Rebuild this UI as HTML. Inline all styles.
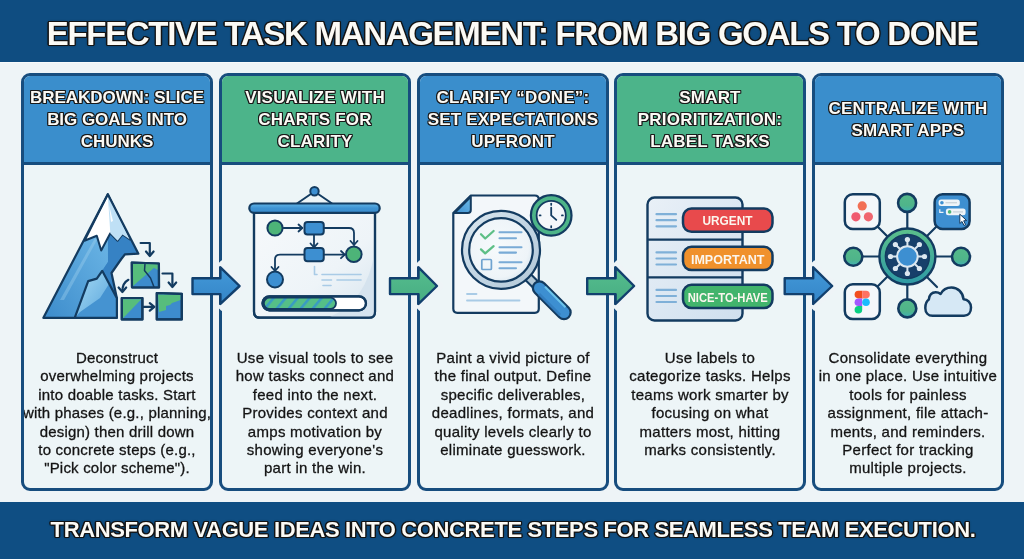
<!DOCTYPE html>
<html><head><meta charset="utf-8">
<style>
html,body{margin:0;padding:0;}
body{width:1024px;height:559px;overflow:hidden;position:relative;background:#eef4f7;font-family:"Liberation Sans",sans-serif;}
.band{position:absolute;left:0;width:1024px;background:#0e497b;}
.title{position:absolute;left:0;width:1024px;text-align:center;color:#fbfaf5;font-weight:bold;white-space:nowrap;
 text-shadow:1.4px 0 0 #141414,-1.4px 0 0 #141414,0 1.4px 0 #141414,0 -1.4px 0 #141414,1px 1px 0 #141414,-1px 1px 0 #141414,1px -1px 0 #141414,-1px -1px 0 #141414,0 0 2.5px #111;will-change:transform;}
.card{position:absolute;top:73px;width:186px;height:412px;border:3px solid #174d7e;border-radius:9px;background:#edf5f7;overflow:hidden;}
.ch{position:absolute;left:0;top:0;width:186px;height:86px;border-bottom:3px solid #174d7e;}
.blue{background:#3a8ecc;}
.green{background:#4cb48a;}
.ht{position:absolute;left:0;width:186px;text-align:center;color:#fbfaf5;font-weight:bold;font-size:17px;line-height:22px;letter-spacing:0.2px;white-space:nowrap;will-change:transform;
 text-shadow:1px 0 0 #1a1a1a,-1px 0 0 #1a1a1a,0 1px 0 #1a1a1a,0 -1px 0 #1a1a1a,1px 1px 0 #1a1a1a,-1px 1px 0 #1a1a1a,1px -1px 0 #1a1a1a,-1px -1px 0 #1a1a1a;}
.bt{position:absolute;left:-10px;width:206px;top:273.3px;text-align:center;color:#141414;font-size:15px;line-height:18.4px;letter-spacing:0.28px;white-space:nowrap;-webkit-text-stroke:0.3px #141414;will-change:transform;}
svg{position:absolute;left:0;top:0;}
</style></head>
<body>
<div class="band" style="top:0;height:62px;background:#0f4d81;"></div>
<div style="position:absolute;left:0;top:62px;width:1024px;height:1px;background:#f7fafc"></div>
<div class="band" style="top:502px;height:57px;background:#0f4e83;"></div>
<div class="title" style="top:13.5px;font-size:33px;line-height:40px;letter-spacing:-1.3px;">EFFECTIVE TASK MANAGEMENT: FROM BIG GOALS TO DONE</div>
<div class="title" style="top:515.8px;left:1.3px;font-size:22px;line-height:28px;letter-spacing:-0.38px;">TRANSFORM VAGUE IDEAS INTO CONCRETE STEPS FOR SEAMLESS TEAM EXECUTION.</div>

<div class="card" style="left:21px;">
 <div class="ch blue"><div class="ht" style="top:11px;letter-spacing:-0.05px;">BREAKDOWN: SLICE<br>BIG GOALS INTO<br>CHUNKS</div></div>
 <div class="bt" style="letter-spacing:0.2px;">Deconstruct<br>overwhelming projects<br>into doable tasks. Start<br>with phases (e.g., planning,<br>design) then drill down<br>to concrete steps (e.g.,<br>"Pick color scheme").</div>
</div>
<div class="card" style="left:219px;">
 <div class="ch green"><div class="ht" style="top:11px;">VISUALIZE WITH<br>CHARTS FOR<br>CLARITY</div></div>
 <div class="bt">Use visual tools to see<br>how tasks connect and<br>feed into the next.<br>Provides context and<br>amps motivation by<br>showing everyone's<br>part in the win.</div>
</div>
<div class="card" style="left:416.5px;">
 <div class="ch blue"><div class="ht" style="top:11px;">CLARIFY “DONE”:<br>SET EXPECTATIONS<br>UPFRONT</div></div>
 <div class="bt">Paint a vivid picture of<br>the final output. Define<br>specific deliverables,<br>deadlines, formats, and<br>quality levels clearly to<br>eliminate guesswork.</div>
</div>
<div class="card" style="left:614px;">
 <div class="ch green"><div class="ht" style="top:11px;">SMART<br>PRIORITIZATION:<br>LABEL TASKS</div></div>
 <div class="bt">Use labels to<br>categorize tasks. Helps<br>teams work smarter by<br>focusing on what<br>matters most, hitting<br>marks consistently.</div>
</div>
<div class="card" style="left:812px;">
 <div class="ch blue"><div class="ht" style="top:22px;">CENTRALIZE WITH<br>SMART APPS</div></div>
 <div class="bt">Consolidate everything<br>in one place. Use intuitive<br>tools for painless<br>assignment, file attach-<br>ments, and reminders.<br>Perfect for tracking<br>multiple projects.</div>
</div>

<svg width="1024" height="559" viewBox="0 0 1024 559" id="icons">
<defs>
 <linearGradient id="mtL" x1="0.8" y1="0.1" x2="0.1" y2="1"><stop offset="0" stop-color="#6db7e6"/><stop offset="1" stop-color="#3f8ecd"/></linearGradient>
 <linearGradient id="mtR" x1="0" y1="0" x2="0" y2="1"><stop offset="0" stop-color="#3f8fcf"/><stop offset="1" stop-color="#2f78b9"/></linearGradient>
 <linearGradient id="frL" x1="0" y1="0" x2="1" y2="1"><stop offset="0" stop-color="#a9dcf5"/><stop offset="1" stop-color="#5aa6dc"/></linearGradient>
 <linearGradient id="arB" x1="0" y1="0" x2="0" y2="1"><stop offset="0" stop-color="#449ad9"/><stop offset="1" stop-color="#3384c7"/></linearGradient>
 <linearGradient id="arG" x1="0" y1="0" x2="0" y2="1"><stop offset="0" stop-color="#55bd8e"/><stop offset="1" stop-color="#47ad82"/></linearGradient>
 <linearGradient id="hubG" x1="0" y1="0" x2="0" y2="1"><stop offset="0" stop-color="#5cc08a"/><stop offset="1" stop-color="#2e9aa6"/></linearGradient>
 <linearGradient id="board" x1="0" y1="0" x2="1" y2="1"><stop offset="0" stop-color="#f6f9fb"/><stop offset="0.6" stop-color="#eef4f8"/><stop offset="1" stop-color="#d7e5ef"/></linearGradient>
 <linearGradient id="panel" x1="0" y1="0" x2="1" y2="1"><stop offset="0" stop-color="#e9f0f7"/><stop offset="1" stop-color="#cfdfee"/></linearGradient>
 <pattern id="stripes" width="12" height="20" patternUnits="userSpaceOnUse" patternTransform="translate(262 0) skewX(-40)"><rect width="12" height="20" fill="#55bf87"/><rect x="8" width="3.4" height="20" fill="#3a9cc2"/></pattern>
 <linearGradient id="bar" x1="0" y1="0" x2="0" y2="1"><stop offset="0" stop-color="#62b5e6"/><stop offset="0.5" stop-color="#3f93d3"/><stop offset="1" stop-color="#3a8bcc"/></linearGradient>
 <linearGradient id="nodeG" x1="0" y1="0" x2="0" y2="1"><stop offset="0" stop-color="#55b98a"/><stop offset="0.65" stop-color="#4fb48a"/><stop offset="1" stop-color="#3fb0b6"/></linearGradient>
 <linearGradient id="fold" x1="1" y1="0" x2="0" y2="1"><stop offset="0" stop-color="#6fbde9"/><stop offset="1" stop-color="#3d8fd1"/></linearGradient>
 <linearGradient id="ring" x1="0" y1="0" x2="1" y2="1"><stop offset="0" stop-color="#dbe7ef"/><stop offset="0.5" stop-color="#c2d5e3"/><stop offset="1" stop-color="#b4c9d9"/></linearGradient>
 <radialGradient id="glass" cx="0.45" cy="0.45" r="0.6"><stop offset="0" stop-color="#f6fafc"/><stop offset="0.8" stop-color="#eef4f8"/><stop offset="1" stop-color="#d9e6ef"/></radialGradient>
</defs>
<g stroke="#133b60" stroke-linejoin="round" stroke-linecap="round">
 <!-- ICON 1: mountain -->
 <path d="M107.8 194.2 L43.4 317.8 L116.9 317.8 L116.9 298.2 L111.5 273 L121.3 259 L125 254.3 L138.4 253.7 Z" fill="#3f8ccc" stroke="none"/>
 <path d="M107.8 194.2 L43.4 317.8 L74.7 317.8 L88.2 281.1 L96.8 278.6 L102.2 270.8 L108 262 L108 235 Z" fill="url(#mtL)" stroke="none"/>
 <path d="M107.8 194.2 L108 262 L102.2 270.8 L116.9 298.2 L111.5 273 L121.3 259 L125 254.3 L138.4 253.7 Z" fill="#3682c4" stroke="none"/>
 <path d="M60 300 L95 238 L97 240 L64 300 Z" fill="#a8d6f2" stroke="none" opacity="0.35"/>
 <path d="M107.8 194.2 L84.5 240.7 L96.8 235.8 L101.2 250.5 L110.3 233.3 L117.6 240.7 L122.5 234.5 L129.9 239.4 Z" fill="#ffffff" stroke-width="2"/>
 <path d="M107.8 194.2 L110.3 233.3 L117.6 240.7 L122.5 234.5 L129.9 239.4 Z" fill="#bfe0f5" stroke="none"/>
 <path d="M109 205 L111 222 L113 221 Z" fill="#ffffff" stroke="none" opacity="0.9"/>
 <path d="M107.8 194.2 L43.4 317.8 L116.9 317.8 L116.9 298.2 L111.5 273 L121.3 259 L125 254.3 L138.4 253.7 Z" fill="none" stroke-width="2.2"/>
 <path d="M74.7 317.8 L88.2 281.1 L96.8 278.6 L102.2 270.8 L116.9 298.2 L116.9 317.8 Z" fill="#4593d1" stroke="none"/>
 <path d="M74.7 317.8 L88.2 281.1 L96.8 278.6 L102.2 270.8 L109 284 L100 298 L80 312 Z" fill="url(#frL)" stroke="none"/>
 <path d="M74.7 317.8 L88.2 281.1 L96.8 278.6 L102.2 270.8 L116.9 298.2 L116.9 317.8 Z" fill="none" stroke-width="2.2"/>
 <!-- puzzle squares -->
 <path d="M131.8 262.5 L158.9 263.5 L159 287.5 L132 287.3 Z" fill="#3d8ccd" stroke-width="2.2"/>
 <path d="M133 263.7 L157.8 264.6 L133 286 Z" fill="#57bd7c" stroke="none"/>
 <path d="M147 264 L157.8 264.6 L157.8 270 Z" fill="#57bd7c" stroke="none"/>
 <path d="M145 263.5 L144.5 270.5 L150.5 278 L154 287" fill="none" stroke-width="1.5"/>
 <path d="M131.8 262.5 L158.9 263.5 L159 287.5 L132 287.3 Z" fill="none" stroke-width="2.2"/>
 <rect x="121.8" y="298" width="20.6" height="21.4" fill="#3d8ccd" stroke-width="2.2"/>
 <path d="M123 299.2 L141.3 299.2 L123 318.3 Z" fill="#57bd7c" stroke="none"/>
 <rect x="121.8" y="298" width="20.6" height="21.4" fill="none" stroke-width="2.2"/>
 <path d="M156.8 293 L181.8 293.8 L181.8 319.4 L156.8 319.4 Z" fill="#3d8ccd" stroke-width="2.2"/>
 <path d="M158 294.5 L180.5 295 L180.5 300 L175 302 L172 303 L170 305 L166 306 L166 310 L159 312 Z" fill="#57bd7c" stroke="none"/>
 <path d="M156.8 293 L181.8 293.8 L181.8 319.4 L156.8 319.4 Z" fill="none" stroke-width="2.2"/>
 <!-- arrows -->
 <path d="M140.6 243 L149.8 243 L149.8 255" fill="none" stroke-width="2.2"/>
 <path d="M146 251.5 L149.8 256 L153.6 251.5" fill="none" stroke-width="2.2"/>
 <path d="M162.5 273.5 L172.4 273.5 L172.4 286" fill="none" stroke-width="2.2"/>
 <path d="M168.6 282.5 L172.4 287 L176.2 282.5" fill="none" stroke-width="2.2"/>
 <path d="M128.4 279.8 Q122.5 283 122.4 291" fill="none" stroke-width="2.2"/>
 <path d="M118.6 287.5 L122.4 292 L126.2 287.5" fill="none" stroke-width="2.2"/>
 <path d="M143.2 306.9 L153.3 306.9" fill="none" stroke-width="2.2"/>
 <path d="M149.8 303.1 L154.3 306.9 L149.8 310.7" fill="none" stroke-width="2.2"/>
</g>
<g stroke="#133b60" stroke-linejoin="round" stroke-linecap="round">
 <!-- ICON 2: board -->
 <line x1="314.5" y1="191.5" x2="297" y2="203.5" stroke-width="2"/>
 <line x1="314.5" y1="191.5" x2="332" y2="203.5" stroke-width="2"/>
 <path d="M254 213 L254 311.7 Q254 317.7 260 317.7 L369 317.7 Q375 317.7 375 311.7 L375 213" fill="url(#board)" stroke-width="2.2"/>
 <path d="M375 250 Q368 300 330 317 L369 317.5 Q375 317.5 375 311.5 Z" fill="#d5e3ee" stroke="none"/>
 <path d="M254 213 L254 311.7 Q254 317.7 260 317.7 L369 317.7 Q375 317.7 375 311.7 L375 213" fill="none" stroke-width="2.2"/>
 <rect x="249.3" y="203.5" width="130.4" height="9.4" rx="4.7" fill="url(#bar)" stroke-width="2.2"/>
 <circle cx="314.5" cy="191.25" r="4.2" fill="#3d8fd1" stroke-width="2"/>
 <!-- flow -->
 <line x1="283.5" y1="228" x2="302" y2="228" stroke-width="1.8"/>
 <path d="M298.5 224.5 L302.3 228 L298.5 231.5" fill="none" stroke-width="1.8"/>
 <path d="M323.7 228 L349 228 Q354 228 354 233 L354 244.5" fill="none" stroke-width="1.8"/>
 <path d="M350.5 241 L354 245 L357.5 241" fill="none" stroke-width="1.8"/>
 <line x1="314" y1="234.5" x2="314" y2="247" stroke-width="1.8"/>
 <path d="M310.5 243.5 L314 247.3 L317.5 243.5" fill="none" stroke-width="1.8"/>
 <line x1="323.7" y1="254.6" x2="344.5" y2="254.6" stroke-width="1.8"/>
 <path d="M341 251 L344.8 254.6 L341 258.2" fill="none" stroke-width="1.8"/>
 <path d="M304.5 254.6 L280 254.6 Q275 254.6 275 259.6 L275 270.5" fill="none" stroke-width="1.8"/>
 <path d="M271.5 267 L275 271 L278.5 267" fill="none" stroke-width="1.8"/>
 <circle cx="275" cy="228" r="7.6" fill="#4db478" stroke-width="2"/>
 <rect x="304.5" y="222" width="19.25" height="12.5" rx="3" fill="#3d8fd1" stroke-width="2"/>
 <rect x="304.5" y="248" width="19.25" height="13.25" rx="3" fill="#3d8fd1" stroke-width="2"/>
 <circle cx="353.8" cy="254.3" r="7.8" fill="#4db478" stroke-width="2"/>
 <circle cx="275" cy="279.5" r="8" fill="#3d8fd1" stroke-width="2"/>
 <g stroke="#a9cbe6" stroke-width="1.6">
  <path d="M314.5 266.5 L314.5 274.5 L317 274.5" fill="none"/>
  <line x1="322" y1="274.5" x2="361" y2="274.5"/>
  <line x1="322" y1="280" x2="331.5" y2="280"/>
  <line x1="337" y1="280" x2="361" y2="280"/>
  <line x1="323" y1="285.5" x2="331" y2="285.5"/>
 </g>
 <!-- progress -->
 <rect x="262.5" y="296.3" width="103.5" height="14" rx="7" fill="#ffffff" stroke-width="2.2"/>
 <rect x="263.8" y="297.6" width="72.2" height="11.4" rx="5.7" fill="url(#stripes)" stroke-width="1.8"/>
 <rect x="262.5" y="296.3" width="103.5" height="14" rx="7" fill="none" stroke-width="2.2"/>

 <!-- ICON 3: document -->
 <path d="M470.8 195.5 L534.8 195.5 Q538.8 195.5 538.8 199.5 L538.8 308.8 Q538.8 312.8 534.8 312.8 L457.3 312.8 Q453.3 312.8 453.3 308.8 L453.3 213 Z" fill="#f3f7fa" stroke-width="2.2"/>
 <path d="M454.5 213 L470.8 196.7 L470.8 210 Q470.8 213 467.8 213 Z" fill="url(#fold)" stroke-width="2"/>
 <g stroke="#a9cbe6" stroke-width="1.8">
  <line x1="467" y1="294" x2="476.5" y2="294"/>
  <line x1="467" y1="300.5" x2="519.5" y2="300.5"/>
 </g>
 <!-- handle -->
 <line x1="527" y1="276" x2="539" y2="288" stroke="#133b60" stroke-width="10"/>
 <line x1="527" y1="276" x2="539" y2="288" stroke="#b3c8d6" stroke-width="6"/>
 <line x1="539.5" y1="288" x2="564" y2="312.5" stroke="#133b60" stroke-width="15.5"/>
 <line x1="539.5" y1="288" x2="564" y2="312.5" stroke="#3d8fd1" stroke-width="11"/>
 <line x1="545" y1="286.8" x2="565.5" y2="307.3" stroke="#6cc3ea" stroke-width="2.2" stroke-linecap="butt"/>
 <line x1="539" y1="294" x2="560" y2="315" stroke="#2f78ba" stroke-width="3" stroke-linecap="butt" opacity="0.7"/>
 <!-- lens -->
 <circle cx="501" cy="249.9" r="39" fill="url(#ring)" stroke-width="2.2"/>
 <circle cx="501" cy="249.9" r="31.8" fill="url(#glass)" stroke-width="2.2"/>
 <g stroke="#5dbf86" stroke-width="2.3" fill="none">
  <path d="M481 234.3 L485.2 238.5 L493.6 231"/>
  <path d="M481 249.4 L485.2 253.3 L493.6 246.2"/>
 </g>
 <rect x="481.8" y="259.5" width="9.6" height="10" rx="1" fill="none" stroke="#6fa3d0" stroke-width="1.7"/>
 <g stroke="#79abd6" stroke-width="2.1">
  <line x1="499.5" y1="232.2" x2="521.5" y2="232.2"/>
  <line x1="499.5" y1="238.2" x2="516" y2="238.2"/>
  <line x1="499.5" y1="247.2" x2="521.5" y2="247.2"/>
  <line x1="499.5" y1="252.6" x2="516" y2="252.6"/>
  <line x1="499.5" y1="262.3" x2="521.5" y2="262.3"/>
  <line x1="499.5" y1="268.3" x2="516" y2="268.3"/>
 </g>
 <!-- clock -->
 <circle cx="551.2" cy="215.4" r="20.3" fill="#4db488" stroke-width="2.2"/>
 <circle cx="551.2" cy="215.4" r="14.6" fill="#f4f7fa" stroke-width="1.8"/>
 <g stroke-width="1.8" fill="none">
  <path d="M551.2 207.6 L551.2 215.4 L556.3 219.9"/>
 </g>
 <g stroke-width="1.7">
  <line x1="551.2" y1="203.6" x2="551.2" y2="205"/>
  <line x1="551.2" y1="226" x2="551.2" y2="227.4"/>
  <line x1="539.6" y1="215.4" x2="540.6" y2="215.4"/>
  <line x1="561.9" y1="215.4" x2="562.9" y2="215.4"/>
 </g>
</g>
<g stroke="#133b60" stroke-linejoin="round" stroke-linecap="round">
 <!-- ICON 4: label panel -->
 <rect x="647.5" y="197.5" width="95" height="123" rx="7" fill="url(#panel)" stroke-width="2.4"/>
 <line x1="648.5" y1="239.6" x2="741.5" y2="239.6" stroke-width="2.2"/>
 <line x1="648.5" y1="277.3" x2="741.5" y2="277.3" stroke-width="2.2"/>
 <g stroke="#7fb0d8" stroke-width="2.2">
  <line x1="656.5" y1="214.2" x2="676" y2="214.2"/><line x1="656.5" y1="220.2" x2="676" y2="220.2"/><line x1="656.5" y1="226.3" x2="676" y2="226.3"/>
  <line x1="656.5" y1="252.4" x2="676" y2="252.4"/><line x1="656.5" y1="258.5" x2="676" y2="258.5"/><line x1="656.5" y1="264.5" x2="676" y2="264.5"/>
  <line x1="656.5" y1="289.9" x2="676" y2="289.9"/><line x1="656.5" y1="296" x2="676" y2="296"/><line x1="656.5" y1="302" x2="676" y2="302"/>
 </g>
 <rect x="683" y="208.6" width="89.5" height="23.2" rx="8.5" fill="#e84a4c" stroke-width="2.5"/>
 <rect x="683" y="246.8" width="89.5" height="23.2" rx="8.5" fill="#f0912c" stroke-width="2.5"/>
 <rect x="683" y="284.8" width="89.5" height="23.2" rx="8.5" fill="#42b46c" stroke-width="2.5"/>
</g>
<g font-family="Liberation Sans" font-weight="bold" fill="#fbf6ee" text-anchor="middle" font-size="12.5">
 <text x="727.5" y="224.8" textLength="50" lengthAdjust="spacingAndGlyphs">URGENT</text>
 <text x="727.7" y="263.8" textLength="73.5" lengthAdjust="spacingAndGlyphs">IMPORTANT</text>
 <text x="727.7" y="301.8" textLength="80" lengthAdjust="spacingAndGlyphs">NICE-TO-HAVE</text>
</g>
<g stroke="#133b60" stroke-linejoin="round" stroke-linecap="round">
 <!-- ICON 5: hub -->
 <g stroke-width="2.2">
  <line x1="907.3" y1="212" x2="907.3" y2="228"/>
  <line x1="907.3" y1="285" x2="907.3" y2="298"/>
  <line x1="863" y1="256.5" x2="879" y2="256.5"/>
  <line x1="936" y1="256.5" x2="951" y2="256.5"/>
  <line x1="875" y1="224" x2="887" y2="236"/>
  <line x1="939" y1="224" x2="927" y2="236"/>
  <line x1="875" y1="289" x2="887" y2="277"/>
  <line x1="927" y1="277" x2="937" y2="287"/>
 </g>
 <circle cx="907.4" cy="256.5" r="28" fill="url(#hubG)" stroke-width="2.4"/>
 <circle cx="907.4" cy="256.5" r="22" fill="#17406a" stroke-width="1.5"/>
 <g stroke="#dbe7f0" stroke-width="2">
  <line x1="907.4" y1="246" x2="907.4" y2="239.5"/><line x1="907.4" y1="267" x2="907.4" y2="273.5"/>
  <line x1="897" y1="256.5" x2="890.5" y2="256.5"/><line x1="918" y1="256.5" x2="924.5" y2="256.5"/>
  <line x1="900" y1="249" x2="895.4" y2="244.5"/><line x1="914.8" y1="249" x2="919.4" y2="244.5"/>
  <line x1="900" y1="264" x2="895.4" y2="268.5"/><line x1="914.8" y1="264" x2="919.4" y2="268.5"/>
 </g>
 <g fill="#dbe7f0" stroke="none">
  <circle cx="907.4" cy="239.5" r="2.6"/><circle cx="907.4" cy="273.5" r="2.6"/>
  <circle cx="890.5" cy="256.5" r="2.6"/><circle cx="924.5" cy="256.5" r="2.6"/>
  <circle cx="895.4" cy="244.5" r="2.6"/><circle cx="919.4" cy="244.5" r="2.6"/>
  <circle cx="895.4" cy="268.5" r="2.6"/><circle cx="919.4" cy="268.5" r="2.6"/>
 </g>
 <circle cx="907.4" cy="256.5" r="10.3" fill="#3d8fd1" stroke="#dbe7f0" stroke-width="2"/>
 <g fill="url(#nodeG)" stroke-width="2.6">
  <circle cx="907.1" cy="202.9" r="9"/>
  <circle cx="853.3" cy="256.8" r="9"/>
  <circle cx="961" cy="256.8" r="9"/>
  <circle cx="907.3" cy="308.4" r="9"/>
 </g>
 <!-- tiles -->
 <rect x="844.8" y="194.2" width="35" height="34.8" rx="8" fill="#f4f7fa" stroke-width="2.5"/>
 <rect x="934.6" y="194.2" width="35" height="34.8" rx="8" fill="#3d8fd1" stroke-width="2.5"/>
 <rect x="844.8" y="284.3" width="35" height="34.8" rx="8" fill="#f4f7fa" stroke-width="2.5"/>
 <path d="M932.5 315.8 L964 315.8 C968.5 315.8 971 312.3 971 307.5 C971 302.8 967.8 299.3 963.5 299.2 C962.8 292.2 957.8 287.6 951.5 287.6 C946.5 287.6 942.7 290 940.6 294 C939.2 292.8 937.6 292.2 935.7 292.2 C931.8 292.2 929.3 295.1 928.8 299.6 C926.6 301.2 925.3 304.5 925.3 308 C925.3 312.6 928.3 315.8 932.5 315.8 Z" fill="#d6e8f5" stroke-width="2.5"/>
</g>
<g stroke="none">
 <circle cx="862.2" cy="205.9" r="4.6" fill="#f26f55"/>
 <circle cx="855.9" cy="216.8" r="4.6" fill="#f05b70"/>
 <circle cx="868.4" cy="216.8" r="4.6" fill="#f06670"/>
 <!-- figma -->
 <path d="M862.2 290.8 L858.4 290.8 A3.8 3.8 0 0 0 858.4 298.4 L862.2 298.4 Z" fill="#f24e1e"/>
 <path d="M862.2 290.8 L866 290.8 A3.8 3.8 0 0 1 866 298.4 L862.2 298.4 Z" fill="#ff7262"/>
 <path d="M862.2 298.4 L858.4 298.4 A3.8 3.8 0 0 0 858.4 306 L862.2 306 Z" fill="#a259ff"/>
 <circle cx="866" cy="302.2" r="3.8" fill="#1abcfe"/>
 <path d="M862.2 306 L858.4 306 A3.8 3.8 0 1 0 862.2 309.8 Z" fill="#0acf83"/>
 <!-- app tile contents -->
 <rect x="938.6" y="199.4" width="21.2" height="6.5" rx="2.5" fill="#eef4f8"/>
 <circle cx="941.9" cy="202.7" r="1.8" fill="#3d8fd1"/>
 <line x1="945.5" y1="202.7" x2="957" y2="202.7" stroke="#c9d3da" stroke-width="1.3"/>
 <rect x="945.9" y="208.4" width="19.7" height="6.9" rx="2.5" fill="#eef4f8"/>
 <circle cx="949.6" cy="211.9" r="1.8" fill="#4db478"/>
 <line x1="953" y1="211.9" x2="963" y2="211.9" stroke="#c9d3da" stroke-width="1.3"/>
 <path d="M939.8 209.2 L939.8 212.3 L943.5 212.3" fill="none" stroke="#eef4f8" stroke-width="1.2"/>
 <path d="M959.8 214.2 L959.8 223.5 L962 221.5 L964 225.5 L965.6 224.7 L963.7 220.8 L966.7 220.6 Z" fill="#ffffff" stroke="#133b60" stroke-width="1"/>
</g>
<!-- connector arrows between cards -->
<g stroke="#12406e" stroke-width="2.4" stroke-linejoin="round">
 <path d="M219.39999999999998 262.3 L243.1 286 L219.39999999999998 308.9" fill="none" stroke="#eef4f7" stroke-width="6"/>
 <path d="M192.5 278.2 L220.4 278.2 L220.4 267.3 L239.6 286 L220.4 303.9 L220.4 294.1 L192.5 294.1 Z" fill="url(#arB)"/>
 <path d="M417.5 262.3 L440.5 286 L417.5 308.9" fill="none" stroke="#eef4f7" stroke-width="6"/>
 <path d="M390.0 278.2 L418.5 278.2 L418.5 267.3 L437.0 286 L418.5 303.9 L418.5 294.1 L390.0 294.1 Z" fill="url(#arG)"/>
 <path d="M614.6 262.3 L637.6 286 L614.6 308.9" fill="none" stroke="#eef4f7" stroke-width="6"/>
 <path d="M587.2 278.2 L615.6 278.2 L615.6 267.3 L634.1 286 L615.6 303.9 L615.6 294.1 L587.2 294.1 Z" fill="url(#arG)"/>
 <path d="M812.2 262.3 L835.6999999999999 286 L812.2 308.9" fill="none" stroke="#eef4f7" stroke-width="6"/>
 <path d="M784.7 278.2 L813.2 278.2 L813.2 267.3 L832.2 286 L813.2 303.9 L813.2 294.1 L784.7 294.1 Z" fill="url(#arB)"/>
</g>

</svg>
</body></html>
